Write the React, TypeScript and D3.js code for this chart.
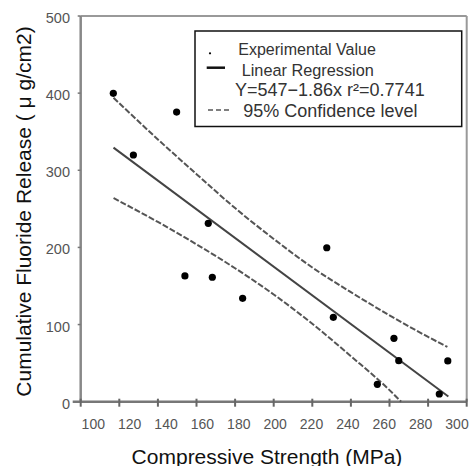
import React from "react";
import * as d3 from "d3";

// Experimental values (compressive strength MPa, cumulative fluoride release µg/cm2)
const strength = [116.9, 127.3, 149.7, 166.1, 154.0, 168.2, 183.9, 227.5, 230.9, 262.3, 264.8, 290.2, 253.7, 285.8];
const release = [399.8, 319.8, 375.5, 231.3, 163.0, 161.3, 134.0, 199.6, 109.4, 82.2, 53.2, 52.8, 22.5, 10.0];

// Linear regression Y = 547 - 1.86x
const regIntercept = 547;
const regSlope = -1.86;
const regRange = [117, 290.5];

// 95% confidence curves
const ciUpperX = [117, 140, 160, 180, 200, 220, 240, 260, 280, 290];
const ciUpperY = [394, 340, 295, 251, 211, 174, 142, 112, 84, 71];
const ciLowerX = [117, 140, 160, 180, 200, 220, 240, 260, 266];
const ciLowerY = [264, 233, 204, 173, 139, 101, 59, 15, 0];

const xTicks = [100, 120, 140, 160, 180, 200, 220, 240, 260, 280, 300];
const yTicks = [0, 100, 200, 300, 400, 500];

const xTitle = "Compressive Strength (MPa)";
const yTitle = "Cumulative Fluoride Release ( μ g/cm2)";
const legendLabels = ["Experimental Value", "Linear Regression", "Y=547−1.86x r²=0.7741", "95% Confidence level"];

const FONT = "'Liberation Sans', Arial, sans-serif";

export default function App() {
  const W = 471, H = 466;
  const x = d3.scaleLinear().domain([100, 300]).range([80.7, 466.7]);
  const y = d3.scaleLinear().domain([0, 500]).range([401.7, 16]);
  const xLabel = d3.scaleLinear().domain([100, 300]).range([93.3, 457]);

  const line = d3.line<[number, number]>().x(d => x(d[0])).y(d => y(d[1])).curve(d3.curveMonotoneX);
  const regPts: [number, number][] = regRange.map(v => [v, regIntercept + regSlope * v]);
  const upPts: [number, number][] = ciUpperX.map((v, i) => [v, ciUpperY[i]]);
  const loPts: [number, number][] = ciLowerX.map((v, i) => [v, ciLowerY[i]]);

  const lx = 195, ly = 31, lw = 266.7, lh = 95.5;

  return (
    <svg width={W} height={H} style={{ position: "absolute", left: 0, top: 0, background: "#fff" }} fontFamily={FONT}>
      <rect x={0} y={0} width={W} height={H} fill="#fff" />
      {/* frame */}
      <line x1={x(100)} y1={y(500)} x2={x(300)} y2={y(500)} stroke="#999" strokeWidth={2} />
      <line x1={x(300)} y1={y(500)} x2={x(300)} y2={y(0)} stroke="#999" strokeWidth={2} />
      <line x1={x(100)} y1={y(0)} x2={x(100)} y2={y(500)} stroke="#888" strokeWidth={2.5} />
      <line x1={x(100) - 8} y1={y(0)} x2={x(300)} y2={y(0)} stroke="#777" strokeWidth={2.5} />
      {/* x ticks */}
      {xTicks.map(t => (
        <g key={"xt" + t}>
          <line x1={x(t)} x2={x(t)} y1={y(0) - 3} y2={y(0) + 5} stroke="#666" strokeWidth={2} />
          <text x={xLabel(t)} y={428.5} textAnchor="middle" fontSize={14} fill="#555">{t}</text>
        </g>
      ))}
      {/* y ticks */}
      {yTicks.map(t => (
        <g key={"yt" + t}>
          {t > 0 && <line x1={x(100) - 3} x2={x(100)} y1={y(t)} y2={y(t)} stroke="#777" strokeWidth={1.5} />}
          <text x={70} y={y(t) + 2} dy="0.35em" textAnchor="end" fontSize={14.5} fill="#555">{t}</text>
        </g>
      ))}
      {/* titles */}
      <text x={267} y={463.5} textAnchor="middle" fontSize={21} fill="#111">{xTitle}</text>
      <text transform={`translate(31,211.5) rotate(-90)`} textAnchor="middle" fontSize={21} fill="#111">{yTitle}</text>
      {/* confidence curves */}
      <path d={line(upPts) || ""} fill="none" stroke="#555" strokeWidth={2} strokeDasharray="6,2" />
      <path d={line(loPts) || ""} fill="none" stroke="#555" strokeWidth={2} strokeDasharray="6,2" />
      {/* regression */}
      <path d={line(regPts) || ""} fill="none" stroke="#444" strokeWidth={2} />
      {/* points */}
      {strength.map((s, i) => (
        <circle key={"p" + i} cx={x(s)} cy={y(release[i])} r={3.6} fill="#000" />
      ))}
      {/* legend */}
      <rect x={lx} y={ly} width={lw} height={lh} fill="#fff" stroke="#111" strokeWidth={1.5} />
      <circle cx={210} cy={53.3} r={1.1} fill="#000" />
      <text x={238.3} y={55} fontSize={16} fill="#333">{legendLabels[0]}</text>
      <line x1={206.7} x2={225} y1={67.7} y2={67.7} stroke="#111" strokeWidth={2.5} />
      <text x={241.7} y={75.5} fontSize={16.3} fill="#333">{legendLabels[1]}</text>
      <text x={235} y={96} fontSize={18} fill="#333">{legendLabels[2]}</text>
      <line x1={208} x2={231} y1={110} y2={110} stroke="#555" strokeWidth={1.3} strokeDasharray="5,3" />
      <text x={243.3} y={116.7} fontSize={18} fill="#333">{legendLabels[3]}</text>
    </svg>
  );
}
